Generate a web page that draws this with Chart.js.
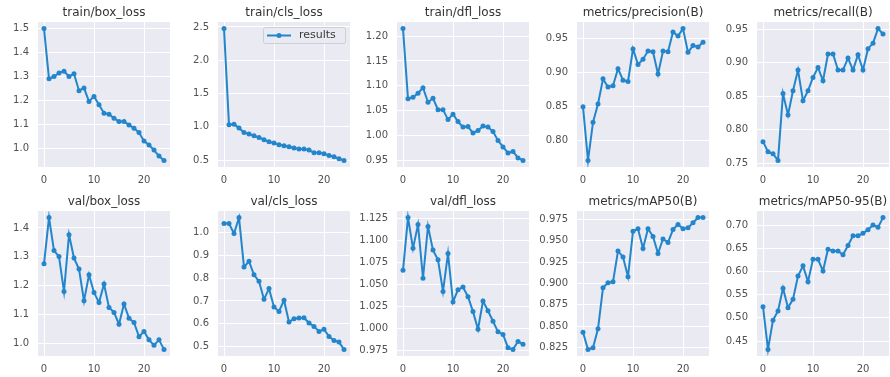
<!DOCTYPE html>
<html>
<head>
<meta charset="utf-8">
<script src="https://cdn.jsdelivr.net/npm/chart.js@4.4.1/dist/chart.umd.min.js"></script>
<style>
  html, body { margin: 0; padding: 0; background: #ffffff; }
  body { position: relative; width: 890px; height: 377px; overflow: hidden; }
  .panel { position: absolute; width: 178px; height: 188px; }
</style>
</head>
<body>
<script>
// Epochs on the x axis
const epochs = [0,1,2,3,4,5,6,7,8,9,10,11,12,13,14,15,16,17,18,19,20,21,22,23,24];
const xTickLabels = ['0', '10', '20'];

// Training losses
const trainBoxLoss = [1.500,1.291,1.300,1.315,1.322,1.300,1.312,1.241,1.252,1.196,1.217,1.182,1.147,1.143,1.126,1.112,1.112,1.098,1.084,1.066,1.031,1.014,0.993,0.968,0.950];
const trainClsLoss = [2.475,1.030,1.040,0.980,0.915,0.890,0.865,0.840,0.805,0.775,0.755,0.730,0.715,0.700,0.680,0.665,0.665,0.650,0.610,0.610,0.595,0.570,0.550,0.520,0.495];
const trainDflLoss = [1.215,1.074,1.077,1.085,1.096,1.067,1.075,1.052,1.052,1.032,1.043,1.028,1.017,1.018,1.005,1.010,1.019,1.017,1.008,0.990,0.977,0.965,0.968,0.955,0.950];

// Validation losses
const valBoxLoss = [1.276,1.436,1.322,1.301,1.180,1.377,1.296,1.258,1.148,1.238,1.177,1.142,1.206,1.125,1.108,1.067,1.137,1.088,1.073,1.024,1.042,1.013,0.994,1.013,0.980];
const valClsLoss = [1.040,1.040,0.996,1.066,0.849,0.874,0.815,0.786,0.707,0.754,0.673,0.654,0.703,0.607,0.622,0.625,0.626,0.603,0.588,0.566,0.575,0.544,0.526,0.519,0.487];
const valDflLoss = [1.066,1.126,1.091,1.118,1.057,1.116,1.089,1.078,1.042,1.085,1.030,1.044,1.047,1.036,1.019,0.999,1.031,1.020,1.008,0.996,0.993,0.978,0.976,0.985,0.982];

// Detection metrics
const precisionB = [0.849,0.770,0.826,0.853,0.890,0.878,0.880,0.905,0.888,0.886,0.934,0.911,0.919,0.931,0.930,0.897,0.931,0.930,0.959,0.953,0.964,0.929,0.939,0.937,0.944];
const recallB = [0.782,0.767,0.764,0.754,0.854,0.822,0.858,0.889,0.843,0.858,0.878,0.893,0.873,0.913,0.913,0.889,0.889,0.907,0.889,0.912,0.889,0.921,0.929,0.951,0.943];
const mAP50B = [0.843,0.823,0.825,0.847,0.895,0.901,0.902,0.938,0.931,0.908,0.961,0.964,0.941,0.964,0.955,0.935,0.952,0.948,0.963,0.969,0.964,0.965,0.971,0.977,0.977];
const mAP5095B = [0.524,0.432,0.495,0.515,0.564,0.522,0.540,0.590,0.612,0.578,0.626,0.626,0.601,0.648,0.644,0.644,0.636,0.656,0.677,0.677,0.682,0.690,0.700,0.695,0.716];

// Y tick labels for each panel
const trainBoxTicks = ['1.0','1.1','1.2','1.3','1.4','1.5'];
const trainClsTicks = ['0.5','1.0','1.5','2.0','2.5'];
const trainDflTicks = ['0.95','1.00','1.05','1.10','1.15','1.20'];
const precisionTicks = ['0.80','0.85','0.90','0.95'];
const recallTicks = ['0.75','0.80','0.85','0.90','0.95'];
const valBoxTicks = ['1.0','1.1','1.2','1.3','1.4'];
const valClsTicks = ['0.5','0.6','0.7','0.8','0.9','1.0'];
const valDflTicks = ['0.975','1.000','1.025','1.050','1.075','1.100','1.125'];
const mAP50Ticks = ['0.825','0.850','0.875','0.900','0.925','0.950','0.975'];
const mAP5095Ticks = ['0.45','0.50','0.55','0.60','0.65','0.70'];

const panels = [
  { title: 'train/box_loss',        values: trainBoxLoss, ticks: trainBoxTicks },
  { title: 'train/cls_loss',        values: trainClsLoss, ticks: trainClsTicks, legend: true },
  { title: 'train/dfl_loss',        values: trainDflLoss, ticks: trainDflTicks },
  { title: 'metrics/precision(B)',  values: precisionB,   ticks: precisionTicks },
  { title: 'metrics/recall(B)',     values: recallB,      ticks: recallTicks },
  { title: 'val/box_loss',          values: valBoxLoss,   ticks: valBoxTicks },
  { title: 'val/cls_loss',          values: valClsLoss,   ticks: valClsTicks },
  { title: 'val/dfl_loss',          values: valDflLoss,   ticks: valDflTicks },
  { title: 'metrics/mAP50(B)',      values: mAP50B,       ticks: mAP50Ticks },
  { title: 'metrics/mAP50-95(B)',   values: mAP5095B,     ticks: mAP5095Ticks }
];

const LINE_BLUE = '#2386cc';
const PANEL_BG = '#eaeaf2';
const COL_LEFT = [-2, 178, 357, 537, 717];
const ROW_TOP = [0, 189];

// Fills the plotting area with the grey backdrop before grid and lines are drawn
const plotBackground = {
  id: 'plotBackground',
  beforeDraw(chart) {
    const { ctx, chartArea: a } = chart;
    ctx.save();
    ctx.fillStyle = PANEL_BG;
    ctx.fillRect(a.left, a.top, a.right - a.left, a.bottom - a.top);
    ctx.restore();
  }
};

// Panel title centred over the plotting area
const axesTitle = {
  id: 'axesTitle',
  afterDraw(chart, args, opts) {
    const { ctx, chartArea: a } = chart;
    ctx.save();
    ctx.fillStyle = '#333333';
    ctx.font = '12px "DejaVu Sans"';
    ctx.textAlign = 'center';
    ctx.textBaseline = 'middle';
    ctx.fillText(opts.text, (a.left + a.right) / 2, a.top - 9);
    ctx.restore();
  }
};

// Small framed legend in the upper right corner of the plotting area
const cornerLegend = {
  id: 'cornerLegend',
  afterDraw(chart, args, opts) {
    if (!opts.show) return;
    const { ctx, chartArea: a } = chart;
    const ds = chart.data.datasets[0];
    const w = 82, h = 16;
    const x = a.right - 5 - w, y = a.top + 5;
    ctx.save();
    ctx.fillStyle = 'rgba(234,234,242,0.85)';
    ctx.strokeStyle = '#cdcdd4';
    ctx.lineWidth = 1;
    ctx.beginPath();
    ctx.roundRect(x + 0.5, y + 0.5, w, h, 2);
    ctx.fill();
    ctx.stroke();
    const cy = y + h / 2 + 0.5;
    ctx.strokeStyle = ds.borderColor;
    ctx.lineWidth = 2;
    ctx.beginPath();
    ctx.moveTo(x + 4, cy);
    ctx.lineTo(x + 28, cy);
    ctx.stroke();
    ctx.fillStyle = ds.borderColor;
    ctx.beginPath();
    ctx.arc(x + 16, cy, 2.5, 0, Math.PI * 2);
    ctx.fill();
    ctx.fillStyle = '#3a3a3a';
    ctx.font = '11px "DejaVu Sans"';
    ctx.textBaseline = 'middle';
    ctx.fillText(ds.label, x + 36, cy);
    ctx.restore();
  }
};

panels.forEach((p, i) => {
  const col = i % 5, row = Math.floor(i / 5);
  const canvas = document.createElement('canvas');
  canvas.className = 'panel';
  canvas.style.left = COL_LEFT[col] + 'px';
  canvas.style.top = ROW_TOP[row] + 'px';
  canvas.width = 178;
  canvas.height = 188;
  document.body.appendChild(canvas);

  const lo = Math.min(...p.values), hi = Math.max(...p.values);
  const margin = (hi - lo) * 0.05;
  const yTickValues = p.ticks.map(Number);
  const e0 = epochs[0], e1 = epochs[epochs.length - 1];

  new Chart(canvas, {
    type: 'line',
    data: {
      datasets: [{
        label: 'results',
        data: epochs.map((e, k) => ({ x: e, y: p.values[k] })),
        borderColor: LINE_BLUE,
        backgroundColor: LINE_BLUE,
        borderWidth: 2,
        pointRadius: 2.5,
        pointBorderWidth: 0,
        pointBackgroundColor: LINE_BLUE,
        tension: 0,
        fill: false
      }]
    },
    options: {
      responsive: false,
      animation: false,
      devicePixelRatio: 1,
      layout: { padding: { left: 0, top: 22, right: 6, bottom: 0 } },
      scales: {
        x: {
          type: 'linear',
          min: e0 - (e1 - e0) * 0.05,
          max: e1 + (e1 - e0) * 0.05,
          afterBuildTicks: s => { s.ticks = xTickLabels.map(t => ({ value: Number(t) })); },
          afterFit: s => { s.height = 21; },
          border: { display: false },
          grid: { color: '#ffffff', lineWidth: 1, drawTicks: false },
          ticks: {
            autoSkip: false, maxRotation: 0, padding: 7,
            color: '#505050', font: { family: 'DejaVu Sans', size: 10 },
            callback: (v, idx) => xTickLabels[idx]
          }
        },
        y: {
          type: 'linear',
          min: lo - margin,
          max: hi + margin,
          afterBuildTicks: s => { s.ticks = yTickValues.map(v => ({ value: v })); },
          afterFit: s => { s.width = 40; },
          border: { display: false },
          grid: { color: '#ffffff', lineWidth: 1, drawTicks: false },
          ticks: {
            autoSkip: false, padding: 9,
            color: '#505050', font: { family: 'DejaVu Sans', size: 10 },
            callback: (v, idx) => p.ticks[idx]
          }
        }
      },
      plugins: {
        legend: { display: false },
        tooltip: { enabled: false },
        title: { display: false },
        axesTitle: { text: p.title },
        cornerLegend: { show: !!p.legend }
      }
    },
    plugins: [plotBackground, axesTitle, cornerLegend]
  });
});
</script>
</body>
</html>
